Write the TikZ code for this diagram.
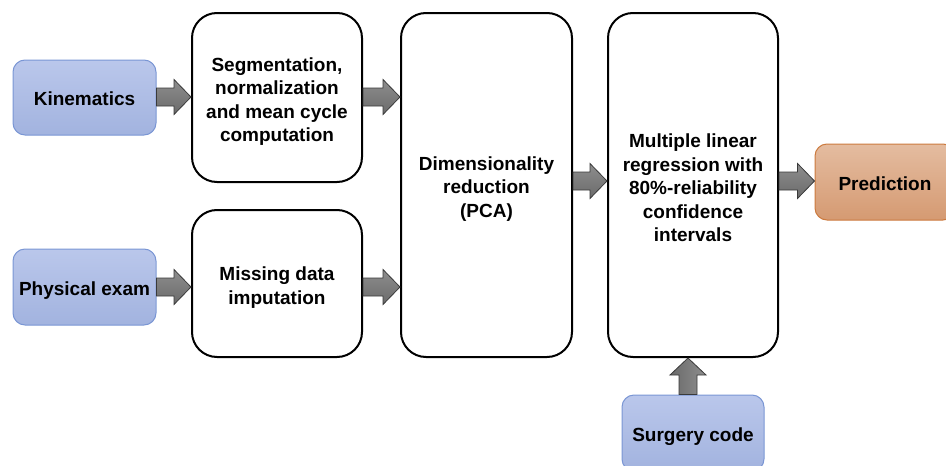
\documentclass[tikz,border=0pt]{standalone}
\usepackage{fontspec}
\setmainfont{Liberation Sans}
\usetikzlibrary{calc}
\definecolor{intop}{HTML}{BAC7EB}
\definecolor{inbot}{HTML}{A2B3DF}
\definecolor{inborder}{HTML}{7A96D4}
\definecolor{outtop}{HTML}{E4BCA0}
\definecolor{outbot}{HTML}{D59A72}
\definecolor{outborder}{HTML}{CC7A3E}
\definecolor{arrline}{HTML}{3A3A3A}
\definecolor{arrtop}{HTML}{8E8E8E}
\definecolor{arrbot}{HTML}{6A6A6A}
\tikzset{
  txt/.style={align=center, inner sep=0pt, font=\bfseries\fontsize{19}{23.5}\selectfont},
  proc/.style={draw=black, line width=2pt, rounded corners=25pt, fill=white},
  inbox/.style={draw=inborder, line width=1pt, rounded corners=12pt, top color=intop, bottom color=inbot},
  outbox/.style={draw=outborder, line width=1pt, rounded corners=12pt, top color=outtop, bottom color=outbot},
  blockarr/.style={draw=arrline, line width=0.8pt, line join=miter, top color=arrtop, bottom color=arrbot},
  vblockarr/.style={draw=arrline, line width=0.8pt, line join=miter, left color=arrbot, right color=arrtop},
}
\newcommand\harrow[3]{%
  \coordinate (hs) at (#1.east |- 0,#3);
  \coordinate (he) at (#2.west |- 0,#3);
  \path[blockarr] ([yshift=9pt]hs) -- ([xshift=-17pt,yshift=9pt]he) -- ([xshift=-17pt,yshift=17.5pt]he)
    -- (he) -- ([xshift=-17pt,yshift=-17.5pt]he) -- ([xshift=-17pt,yshift=-9pt]he) -- ([yshift=-9pt]hs) -- cycle;}
\begin{document}
\begin{tikzpicture}[x=1pt,y=-1pt]
\useasboundingbox (0,0) rectangle (946,466);
\clip (0,0) rectangle (946,466);
\node[inbox, minimum width=143pt, minimum height=75pt] (kin) at (84.5,97.5) {};
\node[txt, yshift=-1.5pt] (kint) at (kin.center) {Kinematics};
\node[inbox, minimum width=143pt, minimum height=76pt] (phys) at (84.5,287) {};
\node[txt, yshift=-4pt] (physt) at (phys.center) {Physical exam};
\node[proc, minimum width=170pt, minimum height=169pt] (seg) at (277,97.5) {};
\node[txt, yshift=-4pt] (segt) at (seg.center) {Segmentation,\\normalization\\and mean cycle\\computation};
\node[proc, minimum width=170pt, minimum height=147pt] (miss) at (277,283.5) {};
\node[txt, yshift=-4pt] (misst) at (miss.center) {Missing data\\imputation};
\node[proc, minimum width=171pt, minimum height=344pt] (dim) at (486.5,185) {};
\node[txt, yshift=-4pt] (dimt) at (dim.center) {Dimensionality\\reduction\\(PCA)};
\node[proc, minimum width=170pt, minimum height=344pt] (mlr) at (693,185) {};
\node[txt, yshift=-3pt] (mlrt) at (mlr.center) {Multiple linear\\regression with\\80\%-reliability\\confidence\\intervals};
\node[outbox, minimum width=140pt, minimum height=76pt] (pred) at (885,182) {};
\node[txt, yshift=-2pt] (predt) at (pred.center) {Prediction};
\node[inbox, minimum width=142pt, minimum height=76pt] (surg) at (693,433) {};
\node[txt, yshift=-4pt] (surgt) at (surg.center) {Surgery code};
\harrow{kin}{seg}{97}
\harrow{seg}{dim}{97}
\harrow{phys}{miss}{287}
\harrow{miss}{dim}{287}
\harrow{dim}{mlr}{181}
\harrow{mlr}{pred}{181}
\coordinate (vs) at (surg.north -| 688,0);
\coordinate (ve) at (mlr.south -| 688,0);
\path[vblockarr] ([xshift=-9pt]vs) -- ([xshift=-9pt,yshift=-17pt]ve) -- ([xshift=-18pt,yshift=-17pt]ve)
  -- (ve) -- ([xshift=18pt,yshift=-17pt]ve) -- ([xshift=9pt,yshift=-17pt]ve) -- ([xshift=9pt]vs) -- cycle;
\end{tikzpicture}
\end{document}
